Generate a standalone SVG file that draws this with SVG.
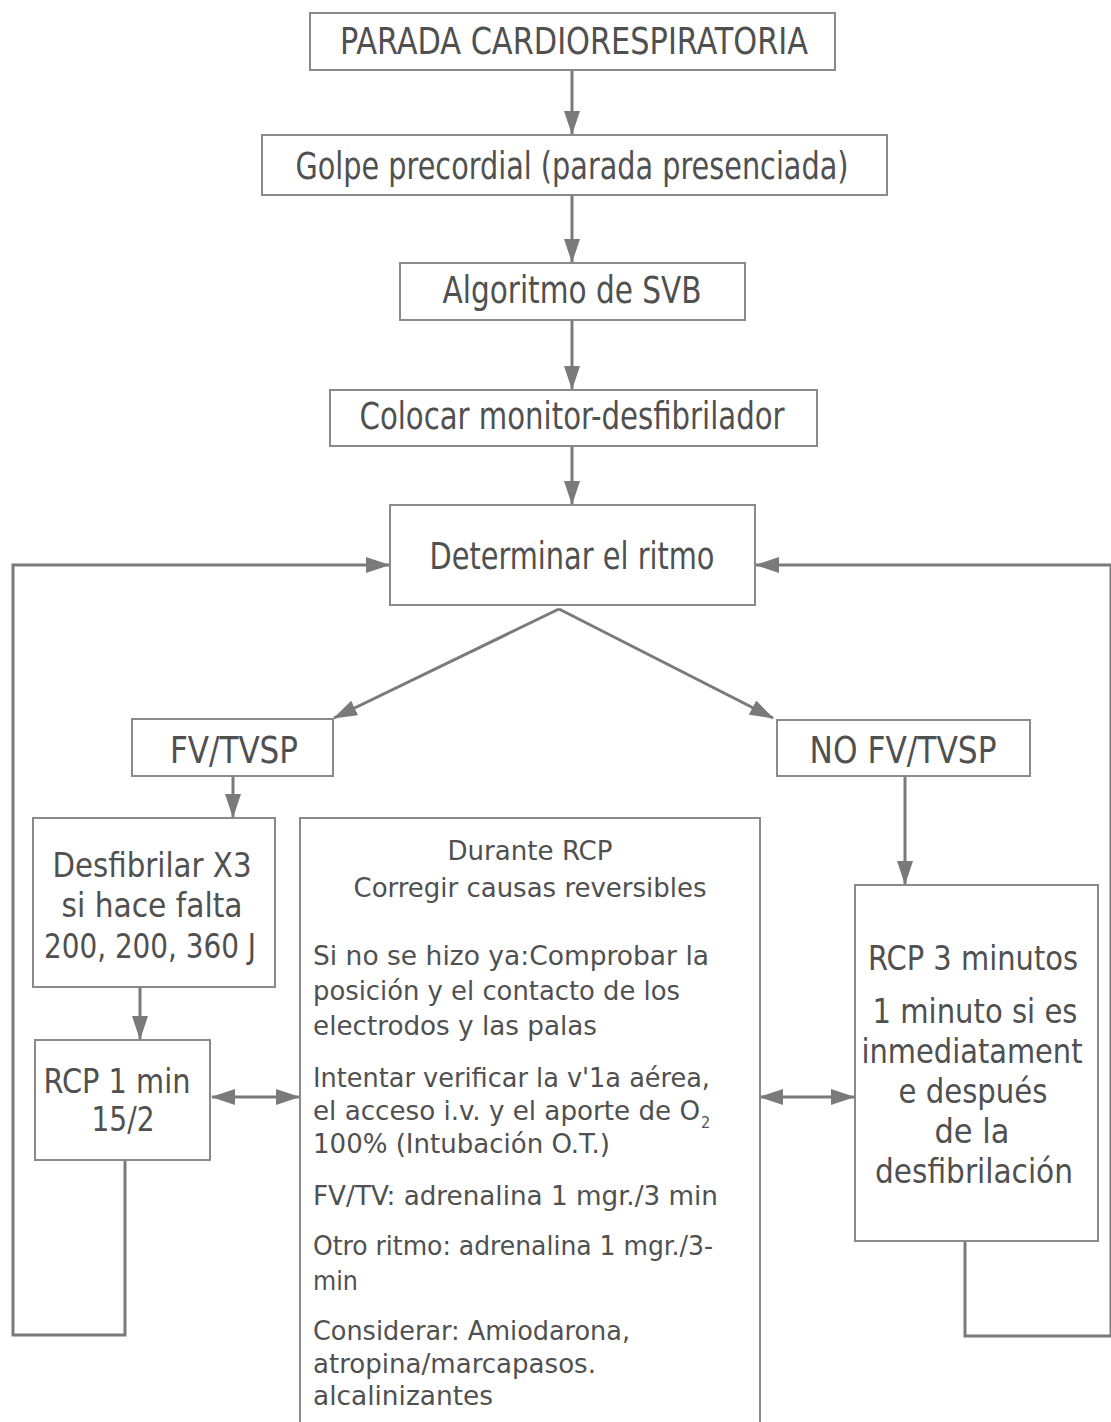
<svg xmlns="http://www.w3.org/2000/svg" width="1111" height="1422" viewBox="0 0 1111 1422">
<style>
.box{fill:#fff;stroke:#8a8a8a;stroke-width:2}
.t{font-family:"Liberation Sans Narrow","DejaVu Sans Condensed","Liberation Sans",sans-serif;fill:#505050}
.c{text-anchor:middle}
.l{font-size:37px}
.m{font-size:33px}
.s{font-size:27px}
.ln{fill:none;stroke:#7a7a7a;stroke-width:3}
</style>
<defs>
<marker id="a" markerWidth="24" markerHeight="16" refX="23" refY="8" orient="auto-start-reverse" markerUnits="userSpaceOnUse" viewBox="0 0 24 16">
<path d="M0,0 L24,8 L0,16 Z" fill="#7a7a7a"/>
</marker>
</defs>
<rect width="1111" height="1422" fill="#fff"/>
<g id="connectors">
<line class="ln" x1="572" y1="70" x2="572" y2="134" marker-end="url(#a)"/>
<line class="ln" x1="572" y1="195" x2="572" y2="262" marker-end="url(#a)"/>
<line class="ln" x1="572" y1="320" x2="572" y2="389" marker-end="url(#a)"/>
<line class="ln" x1="572" y1="446" x2="572" y2="504" marker-end="url(#a)"/>
<line class="ln" x1="559" y1="609" x2="334" y2="718" marker-end="url(#a)"/>
<line class="ln" x1="559" y1="609" x2="773" y2="718" marker-end="url(#a)"/>
<line class="ln" x1="233" y1="776" x2="233" y2="817" marker-end="url(#a)"/>
<line class="ln" x1="905" y1="776" x2="905" y2="884" marker-end="url(#a)"/>
<line class="ln" x1="140" y1="987" x2="140" y2="1039" marker-end="url(#a)"/>
<line class="ln" x1="212" y1="1097" x2="299" y2="1097" marker-start="url(#a)" marker-end="url(#a)"/>
<line class="ln" x1="760" y1="1097" x2="854" y2="1097" marker-start="url(#a)" marker-end="url(#a)"/>
<polyline class="ln" points="125,1160 125,1335 13,1335 13,565 389,565" marker-end="url(#a)"/>
<polyline class="ln" points="965,1241 965,1336 1111,1336 1111,565 756,565" marker-end="url(#a)"/>
</g>
<g id="n1"><rect class="box" x="310" y="13" width="525" height="57"/><text class="t l c" x="574" y="54" textLength="468" lengthAdjust="spacingAndGlyphs">PARADA CARDIORESPIRATORIA</text></g>
<g id="n2"><rect class="box" x="262" y="135" width="625" height="60"/><text class="t l c" x="572" y="179" textLength="553" lengthAdjust="spacingAndGlyphs">Golpe precordial (parada presenciada)</text></g>
<g id="n3"><rect class="box" x="400" y="263" width="345" height="57"/><text class="t l c" x="572" y="303" textLength="259" lengthAdjust="spacingAndGlyphs">Algoritmo de SVB</text></g>
<g id="n4"><rect class="box" x="330" y="390" width="487" height="56"/><text class="t l c" x="572" y="429" textLength="425" lengthAdjust="spacingAndGlyphs">Colocar monitor-desfibrilador</text></g>
<g id="n5"><rect class="box" x="390" y="505" width="365" height="100"/><text class="t l c" x="572" y="569" textLength="285" lengthAdjust="spacingAndGlyphs">Determinar el ritmo</text></g>
<g id="n6"><rect class="box" x="132" y="719" width="201" height="57"/><text class="t l c" x="234" y="763" textLength="128" lengthAdjust="spacingAndGlyphs">FV/TVSP</text></g>
<g id="n7"><rect class="box" x="777" y="720" width="253" height="56"/><text class="t l c" x="903" y="763" textLength="187" lengthAdjust="spacingAndGlyphs">NO FV/TVSP</text></g>
<g id="n8"><rect class="box" x="33" y="818" width="242" height="169"/>
<text class="t m c" x="152" y="877" textLength="199" lengthAdjust="spacingAndGlyphs">Desfibrilar X3</text>
<text class="t m c" x="152" y="917" textLength="181" lengthAdjust="spacingAndGlyphs">si hace falta</text>
<text class="t m c" x="150" y="958" textLength="212" lengthAdjust="spacingAndGlyphs">200, 200, 360 J</text></g>
<g id="n9"><rect class="box" x="35" y="1040" width="175" height="120"/>
<text class="t m c" x="117" y="1093" textLength="147" lengthAdjust="spacingAndGlyphs">RCP 1 min</text>
<text class="t m c" x="123" y="1131" textLength="63" lengthAdjust="spacingAndGlyphs">15/2</text></g>
<g id="n10"><rect class="box" x="300" y="818" width="460" height="620"/>
<text class="t s c" x="530" y="860" textLength="165" lengthAdjust="spacingAndGlyphs">Durante RCP</text>
<text class="t s c" x="530" y="897" textLength="353" lengthAdjust="spacingAndGlyphs">Corregir causas reversibles</text>
<text class="t s" x="313" y="965" textLength="396" lengthAdjust="spacingAndGlyphs">Si no se hizo ya:Comprobar la</text>
<text class="t s" x="313" y="1000" textLength="367" lengthAdjust="spacingAndGlyphs">posición y el contacto de los</text>
<text class="t s" x="313" y="1035" textLength="284" lengthAdjust="spacingAndGlyphs">electrodos y las palas</text>
<text class="t s" x="313" y="1087" textLength="397" lengthAdjust="spacingAndGlyphs">Intentar verificar la v'1a aérea,</text>
<text class="t s" x="313" y="1120" textLength="387" lengthAdjust="spacingAndGlyphs">el acceso i.v. y el aporte de O</text>
<text class="t" x="701" y="1128" font-size="16">2</text>
<text class="t s" x="313" y="1153" textLength="297" lengthAdjust="spacingAndGlyphs">100% (Intubación O.T.)</text>
<text class="t s" x="313" y="1205" textLength="405" lengthAdjust="spacingAndGlyphs">FV/TV: adrenalina 1 mgr./3 min</text>
<text class="t s" x="313" y="1255" textLength="400" lengthAdjust="spacingAndGlyphs">Otro ritmo: adrenalina 1 mgr./3-</text>
<text class="t s" x="313" y="1290" textLength="45" lengthAdjust="spacingAndGlyphs">min</text>
<text class="t s" x="313" y="1340" textLength="317" lengthAdjust="spacingAndGlyphs">Considerar: Amiodarona,</text>
<text class="t s" x="313" y="1373" textLength="283" lengthAdjust="spacingAndGlyphs">atropina/marcapasos.</text>
<text class="t s" x="313" y="1405" textLength="180" lengthAdjust="spacingAndGlyphs">alcalinizantes</text></g>
<g id="n11"><rect class="box" x="855" y="885" width="243" height="356"/>
<text class="t m c" x="973" y="970" textLength="210" lengthAdjust="spacingAndGlyphs">RCP 3 minutos</text>
<text class="t m c" x="975" y="1023" textLength="205" lengthAdjust="spacingAndGlyphs">1 minuto si es</text>
<text class="t m c" x="972" y="1063" textLength="221" lengthAdjust="spacingAndGlyphs">inmediatament</text>
<text class="t m c" x="973" y="1103" textLength="149" lengthAdjust="spacingAndGlyphs">e después</text>
<text class="t m c" x="972" y="1143" textLength="75" lengthAdjust="spacingAndGlyphs">de la</text>
<text class="t m c" x="974" y="1183" textLength="198" lengthAdjust="spacingAndGlyphs">desfibrilación</text></g>
</svg>
